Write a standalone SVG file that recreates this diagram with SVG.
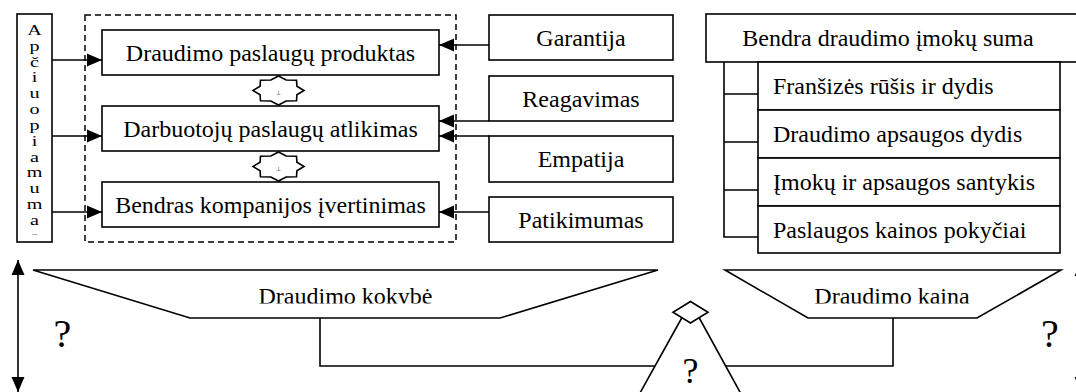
<svg xmlns="http://www.w3.org/2000/svg" xmlns:xlink="http://www.w3.org/1999/xlink" width="1076" height="392" viewBox="0 0 1076 392" font-family="'Liberation Serif', 'Times New Roman', 'DejaVu Serif', serif">
<style>
.box{fill:#fff;stroke:#000;stroke-width:1.6}
.ln{fill:none;stroke:#000;stroke-width:1.6}
.dash{fill:none;stroke:#000;stroke-width:1.5;stroke-dasharray:6 4}
.t{font-family:'Liberation Serif','Times New Roman','DejaVu Serif',serif;font-size:24px;fill:#000}
.c{text-anchor:middle}
.q{font-family:'Liberation Serif','Times New Roman','DejaVu Serif',serif;fill:#000;text-anchor:middle}
.star{fill:#fff;stroke:#000;stroke-width:1.6}
.tiny{font-family:'DejaVu Sans',sans-serif;font-size:6px;fill:#000;text-anchor:middle}
</style>
<defs>
<marker id="ah" markerUnits="userSpaceOnUse" markerWidth="16" markerHeight="14" refX="15" refY="7" orient="auto-start-reverse">
<path d="M0,0.5 L15,7 L0,13.5 Z" fill="#000"/>
</marker>
<path id="starShape" class="star" d="M0,-14.5 L7.62,-10.44 L18.03,-10.25 L18.39,-4.32 L25.5,0 L18.39,4.32 L18.03,10.25 L7.62,10.44 L0,14.5 L-7.62,10.44 L-18.03,10.25 L-18.39,4.32 L-25.5,0 L-18.39,-4.32 L-18.03,-10.25 L-7.62,-10.44 Z"/>
<clipPath id="vclip"><rect x="17" y="14" width="35" height="220.5"/></clipPath>
<clipPath id="bclip"><rect x="0" y="270" width="1076" height="33.5"/></clipPath>
</defs>

<g id="connectors">
<line class="ln" x1="52" y1="60" x2="102" y2="60" marker-end="url(#ah)"/>
<line class="ln" x1="52" y1="136" x2="102" y2="136" marker-end="url(#ah)"/>
<line class="ln" x1="52" y1="212" x2="102" y2="212" marker-end="url(#ah)"/>
<line class="ln" x1="489" y1="45" x2="439" y2="45" marker-end="url(#ah)"/>
<line class="ln" x1="489" y1="121" x2="439" y2="121" marker-end="url(#ah)"/>
<line class="ln" x1="489" y1="136" x2="439" y2="136" marker-end="url(#ah)"/>
<line class="ln" x1="489" y1="212" x2="439" y2="212" marker-end="url(#ah)"/>
<path class="ln" d="M724,62 V237 H758 M724,94 H758 M724,142 H758 M724,190 H758"/>
<line class="ln" x1="18" y1="260" x2="18" y2="392" marker-start="url(#ah)" marker-end="url(#ah)"/>
<line class="ln" x1="1081" y1="261" x2="1081" y2="392" marker-start="url(#ah)" marker-end="url(#ah)"/>
<path class="ln" d="M320,318 V366 H654.6 M893,318 V366 H725.7"/>
</g>

<g id="node-apciuopiamumas">
<rect class="box" x="17" y="14" width="35" height="228"/>
<g clip-path="url(#vclip)">
<text class="t c" style="font-size:15.5px" transform="translate(34.5 0) scale(1.3 1)">
<tspan x="0" y="35">A</tspan><tspan x="0" y="50.8">p</tspan><tspan x="0" y="66.7">č</tspan><tspan x="0" y="82.5">i</tspan><tspan x="0" y="98.3">u</tspan><tspan x="0" y="114.2">o</tspan><tspan x="0" y="130">p</tspan><tspan x="0" y="145.8">i</tspan><tspan x="0" y="161.6">a</tspan><tspan x="0" y="177.5">m</tspan><tspan x="0" y="193.3">u</tspan><tspan x="0" y="209.1">m</tspan><tspan x="0" y="225">a</tspan><tspan x="0" y="240.8">s</tspan>
</text>
</g>
</g>

<g id="group-dashed">
<rect class="dash" x="85" y="15" width="371" height="227"/>
</g>

<g id="node-produktas">
<rect class="box" x="102" y="30" width="337" height="45"/>
<text class="t c" x="270.5" y="60.5">Draudimo paslaugų produktas</text>
</g>
<g id="node-atlikimas">
<rect class="box" x="102" y="106" width="337" height="45"/>
<text class="t c" x="270.5" y="136.5">Darbuotojų paslaugų atlikimas</text>
</g>
<g id="node-ivertinimas">
<rect class="box" x="102" y="182" width="337" height="45"/>
<text class="t c" x="270.5" y="212.5">Bendras kompanijos įvertinimas</text>
</g>

<g id="node-star1">
<use xlink:href="#starShape" href="#starShape" x="278.5" y="90.5"/>
<text class="tiny" x="278.5" y="95">⊥</text>
</g>
<g id="node-star2">
<use xlink:href="#starShape" href="#starShape" x="278.5" y="166.5"/>
<text class="tiny" x="278.5" y="171">⊥</text>
</g>

<g id="node-garantija">
<rect class="box" x="489" y="15" width="184" height="45"/>
<text class="t c" x="581" y="46">Garantija</text>
</g>
<g id="node-reagavimas">
<rect class="box" x="489" y="76" width="184" height="45"/>
<text class="t c" x="581" y="106.5">Reagavimas</text>
</g>
<g id="node-empatija">
<rect class="box" x="489" y="136" width="184" height="46"/>
<text class="t c" x="581" y="167">Empatija</text>
</g>
<g id="node-patikimumas">
<rect class="box" x="489" y="197" width="184" height="45"/>
<text class="t c" x="581" y="227.5">Patikimumas</text>
</g>

<g id="node-imoku-suma">
<rect class="box" x="706" y="14" width="374" height="48"/>
<text class="t c" x="888" y="46">Bendra draudimo įmokų suma</text>
</g>
<g id="node-fransize">
<rect class="box" x="758" y="62" width="302" height="48"/>
<text class="t" x="773" y="94">Franšizės rūšis ir dydis</text>
</g>
<g id="node-apsaugos-dydis">
<rect class="box" x="758" y="110" width="302" height="48"/>
<text class="t" x="773" y="142">Draudimo apsaugos dydis</text>
</g>
<g id="node-santykis">
<rect class="box" x="758" y="158" width="302" height="48"/>
<text class="t" x="773" y="190">Įmokų ir apsaugos santykis</text>
</g>
<g id="node-pokyciai">
<rect class="box" x="758" y="206" width="302" height="47"/>
<text class="t" x="773" y="237.5">Paslaugos kainos pokyčiai</text>
</g>

<g id="node-kokybe">
<polygon class="box" points="33,270 658,270 500,318 190,318"/>
<text class="t c" x="345.5" y="304" clip-path="url(#bclip)">Draudimo kokybė</text>
</g>
<g id="node-kaina">
<polygon class="box" points="725,270 1061,270 977,318 808,318"/>
<text class="t c" x="892" y="304" clip-path="url(#bclip)">Draudimo kaina</text>
</g>

<g id="node-fulcrum">
<path class="ln" d="M681.7,318 L640,393 M699.3,318 L740.5,393"/>
<polygon class="box" points="690.5,301.5 708,312.3 690.5,323 673,312.3"/>
<text class="q" x="690.5" y="383" style="font-size:36px">?</text>
</g>

<g id="label-q-left">
<text class="q" x="62.5" y="347" style="font-size:40px">?</text>
</g>
<g id="label-q-right">
<text class="q" x="1050" y="347" style="font-size:40px">?</text>
</g>
</svg>
